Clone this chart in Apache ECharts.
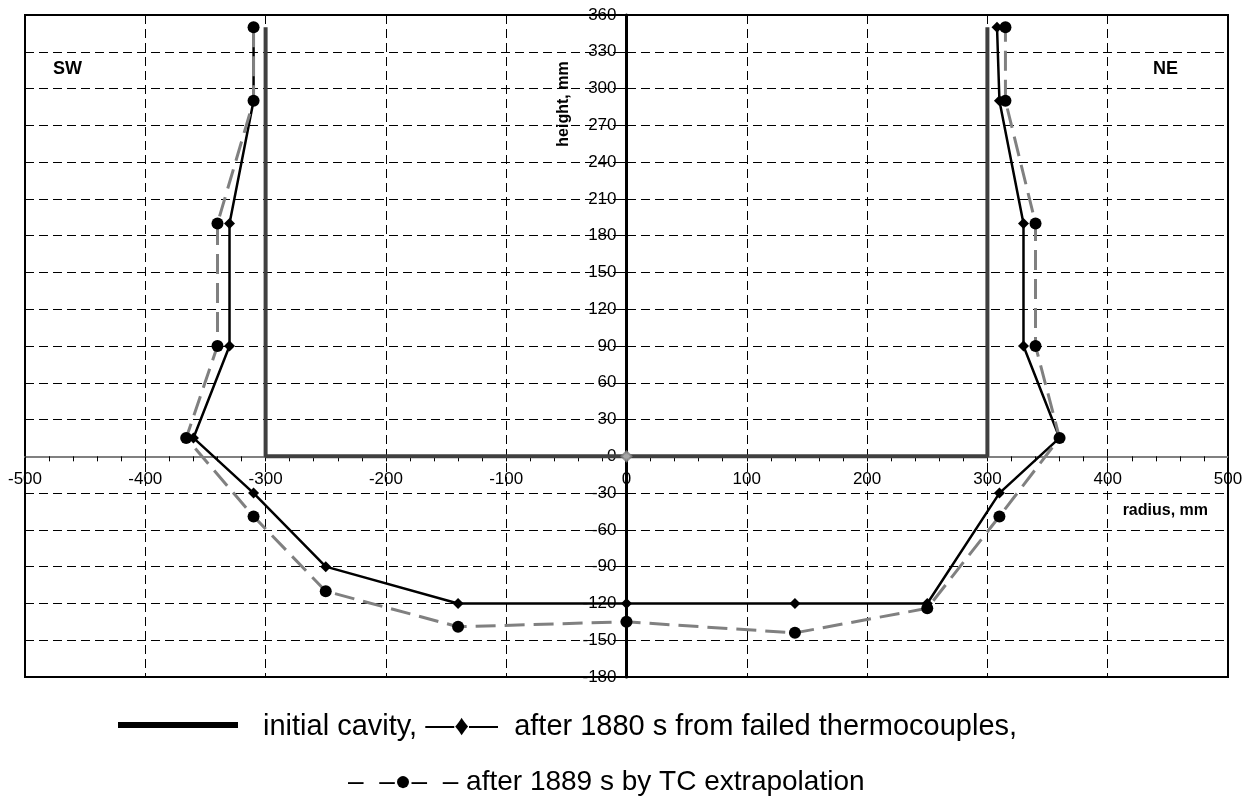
<!DOCTYPE html>
<html>
<head>
<meta charset="utf-8">
<script src="https://cdn.jsdelivr.net/npm/echarts@6/dist/echarts.min.js"></script>
<style>
html,body{margin:0;padding:0;background:#fff;}
#chart{width:1255px;height:798px;}
</style>
</head>
<body>
<div id="chart"></div>
<script>
// ---- data ----
const cavityX = [-300, -300, 300, 300];
const cavityY = [350, 0, 0, 350];

const tc1880X = [-310, -310, -330, -330, -360, -310, -250, -140, 0, 140, 250, 310, 360, 330, 330, 310, 308];
const tc1880Y = [350, 290, 190, 90, 15, -30, -90, -120, -120, -120, -120, -30, 15, 90, 190, 290, 350];

const tc1889X = [-310, -310, -340, -340, -366, -310, -250, -140, 0, 140, 250, 310, 360, 340, 340, 315, 315];
const tc1889Y = [350, 290, 190, 90, 15, -49, -110, -139, -135, -144, -124, -49, 15, 90, 190, 290, 350];

const originX = [0];
const originY = [0];

const xMin = -500, xMax = 500, xStep = 100;
const yMin = -180, yMax = 360, yStep = 30;

const xAxisName = 'radius, mm';
const yAxisName = 'height, mm';
const sideLeft = 'SW';
const sideRight = 'NE';
const legendLine1 = 'initial cavity, \u2014\u2666\u2014  after 1880 s from failed thermocouples,';
const legendLine2 = '\u2013  \u2013\u25CF\u2013  \u2013 after 1889 s by TC extrapolation';

function zip(xs, ys) { return xs.map((x, i) => [x, ys[i]]); }

const FONT = '"Liberation Sans", Arial, sans-serif';
const chart = echarts.init(document.getElementById('chart'), null, {renderer: 'canvas'});

const G = {left: 25, top: 15, width: 1203, height: 662};
// place the axes through the origin (0,0) of the data
const xAxisOffset = -G.height * (0 - yMin) / (yMax - yMin);
const yAxisOffset = -G.width * (0 - xMin) / (xMax - xMin);

const dashGrid = {type: [9, 5], color: '#000', width: 1};

chart.setOption({
  animation: false,
  backgroundColor: '#fff',
  grid: {left: G.left, top: G.top, width: G.width, height: G.height, show: true,
         containLabel: false, outerBoundsMode: 'none',
         borderColor: '#000', borderWidth: 2, backgroundColor: 'transparent'},
  xAxis: {
    type: 'value', min: xMin, max: xMax, interval: xStep, position: 'bottom', offset: xAxisOffset,
    axisLine: {onZero: false, lineStyle: {color: '#808080', width: 2}},
    axisTick: {show: true, length: 5, lineStyle: {color: '#000', width: 1}},
    minorTick: {show: true, splitNumber: 5, length: 5, lineStyle: {color: '#000', width: 1}},
    axisLabel: {fontSize: 17, color: '#000', fontFamily: FONT, margin: 14,
                showMinLabel: true, showMaxLabel: true},
    splitLine: {show: true, lineStyle: dashGrid}
  },
  yAxis: {
    type: 'value', min: yMin, max: yMax, interval: yStep, position: 'left', offset: yAxisOffset,
    axisLine: {onZero: false, lineStyle: {color: '#000', width: 3}},
    axisTick: {show: true, length: 6, lineStyle: {color: '#000', width: 1}},
    axisLabel: {fontSize: 17, color: '#000', fontFamily: FONT, margin: 10,
                showMinLabel: true, showMaxLabel: true},
    splitLine: {show: true, lineStyle: dashGrid}
  },
  series: [
    {name: 'initial cavity', type: 'line', data: zip(cavityX, cavityY),
     symbol: 'none', lineStyle: {color: '#404040', width: 4}, z: 3},
    {name: 'after 1880 s from failed thermocouples', type: 'line', data: zip(tc1880X, tc1880Y),
     symbol: 'diamond', symbolSize: 11, itemStyle: {color: '#000'},
     lineStyle: {color: '#000', width: 2.5}, z: 4},
    {name: 'after 1889 s by TC extrapolation', type: 'line', data: zip(tc1889X, tc1889Y),
     symbol: 'circle', symbolSize: 12, itemStyle: {color: '#000'},
     lineStyle: {color: '#808080', width: 3, type: [20, 9]}, z: 5},
    {name: 'origin', type: 'scatter', data: zip(originX, originY),
     symbol: 'diamond', symbolSize: 10,
     itemStyle: {color: '#c0c0c0', borderColor: '#808080', borderWidth: 2}, z: 6}
  ],
  graphic: [
    {type: 'text', x: 53, y: 69, style: {text: sideLeft, font: 'bold 18px ' + FONT,
      fill: '#000', textAlign: 'left', textVerticalAlign: 'middle'}},
    {type: 'text', x: 1153, y: 69, style: {text: sideRight, font: 'bold 18px ' + FONT,
      fill: '#000', textAlign: 'left', textVerticalAlign: 'middle'}},
    {type: 'text', x: 1208, y: 511, style: {text: xAxisName, font: 'bold 16px ' + FONT,
      fill: '#000', textAlign: 'right', textVerticalAlign: 'middle'}},
    {type: 'text', x: 564, y: 104, rotation: Math.PI / 2,
      style: {text: yAxisName, font: 'bold 16px ' + FONT,
      fill: '#000', textAlign: 'center', textVerticalAlign: 'middle'}},
    {type: 'rect', shape: {x: 118, y: 722, width: 120, height: 6}, style: {fill: '#000'}},
    {type: 'text', x: 263, y: 727, style: {text: legendLine1, font: '29px ' + FONT,
      fill: '#000', textAlign: 'left', textVerticalAlign: 'middle'}},
    {type: 'text', x: 348, y: 782, style: {text: legendLine2, font: '28px ' + FONT,
      fill: '#000', textAlign: 'left', textVerticalAlign: 'middle'}}
  ]
});
</script>
</body>
</html>
